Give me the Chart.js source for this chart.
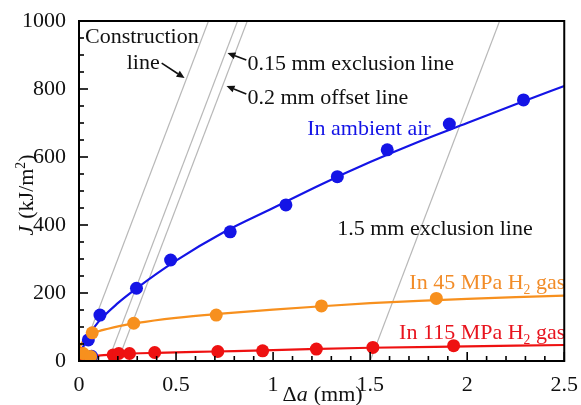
<!DOCTYPE html>
<html><head><meta charset="utf-8">
<script src="https://cdn.jsdelivr.net/npm/chart.js@4.4.1/dist/chart.umd.min.js"></script>
<style>html,body{margin:0;padding:0;background:#fff}</style>
</head><body>
<canvas id="c" width="581" height="405"></canvas>
<script>
// ---- data ----
const airX = [0.048, 0.065, 0.108, 0.296, 0.472, 0.779, 1.066, 1.331, 1.588, 1.908, 2.29];
const airJ = [62, 14, 135, 214, 297, 380, 459, 542, 621, 697, 768];
const h45X = [0.022, 0.060, 0.068, 0.282, 0.707, 1.249, 1.841];
const h45J = [22, 13, 83, 111, 135, 162, 184];
const h115X = [0.014, 0.176, 0.205, 0.26, 0.39, 0.715, 0.946, 1.223, 1.514, 1.93];
const h115J = [21, 18, 22, 22, 25, 28, 30, 35, 40, 45];

// fitted curves
const airCurveX = [0, 0.02, 0.05, 0.1, 0.2, 0.3, 0.5, 0.75, 1.0, 1.25, 1.5, 1.75, 2.0, 2.25, 2.5];
const airCurveJ = [0, 40, 75, 115, 170, 215, 295, 380, 450, 520, 585, 645, 700, 755, 809];
const h45CurveX = [0, 0.01, 0.03, 0.07, 0.15, 0.3, 0.5, 0.75, 1.0, 1.25, 1.5, 1.75, 2.0, 2.25, 2.5];
const h45CurveJ = [28, 48, 63, 80, 95, 112, 127, 140, 151, 161, 170, 177, 183, 188, 192];
const h115CurveX = [0, 0.03, 0.1, 0.2, 0.4, 0.7, 1.0, 1.5, 2.0, 2.5];
const h115CurveJ = [2, 12, 16, 20, 24, 28, 32, 39, 43, 47];

// construction / exclusion / offset lines (start and end points)
const guideNames = ['Construction line', '0.15 mm exclusion line', '0.2 mm offset line', '1.5 mm exclusion line'];
const guideStartX = [0, 0.15, 0.2, 1.5];
const guideEndX = [0.667, 0.817, 0.867, 2.167];
const guideStartJ = [0, 0, 0, 0];
const guideEndJ = [1000, 1000, 1000, 1000];

// tick labels and tick marks
const xTicks = [0, 0.5, 1, 1.5, 2, 2.5];
const xTickLabels = ['0', '0.5', '1', '1.5', '2', '2.5'];
const yTicks = [0, 200, 400, 600, 800, 1000];
const yTickLabels = ['0', '200', '400', '600', '800', '1000'];
const xMinorStep = 0.1;
const yMinorStep = 50;

// annotations (anchored in data units)
const noteText = ['Construction', 'line', '0.15 mm exclusion line', '0.2 mm offset line', 'In ambient air', '1.5 mm exclusion line', 'In 45 MPa H\u2082 gas', 'In 115 MPa H\u2082 gas'];
const noteX = [0.031, 0.246, 0.868, 0.868, 1.176, 1.330, 2.505, 2.505];
const noteJ = [956, 879, 876, 776, 685, 391, 232, 85];
const noteAlign = ['left', 'left', 'left', 'left', 'left', 'left', 'right', 'right'];
const noteColor = ['#111', '#111', '#111', '#111', '#1414e6', '#111', '#f28c28', '#e8141e'];

const arrowTailX = [0.426, 0.862, 0.862];
const arrowTailJ = [876, 885, 785];
const arrowHeadX = [0.544, 0.765, 0.760];
const arrowHeadJ = [832, 906, 809];

const BLUE = '#1414e6', ORANGE = '#f7901e', RED = '#ee1111', GRAY = '#b8b8b8';
const FONT = 'Liberation Serif';

const pts = (xs, ys) => xs.map((x, i) => ({x, y: ys[i]}));

const datasets = [];
guideNames.forEach((n, i) => {
  datasets.push({label: n, data: [{x: guideStartX[i], y: guideStartJ[i]}, {x: guideEndX[i], y: guideEndJ[i]}],
    showLine: true, borderColor: GRAY, borderWidth: 1.2, pointRadius: 0, order: 10});
});
datasets.push({label: 'air fit', data: pts(airCurveX, airCurveJ), showLine: true, borderColor: BLUE, borderWidth: 2.2, pointRadius: 0, cubicInterpolationMode: 'monotone', order: 6});
datasets.push({label: '45 fit', data: pts(h45CurveX, h45CurveJ), showLine: true, borderColor: ORANGE, borderWidth: 2.2, pointRadius: 0, cubicInterpolationMode: 'monotone', order: 5});
datasets.push({label: '115 fit', data: pts(h115CurveX, h115CurveJ), showLine: true, borderColor: RED, borderWidth: 2.2, pointRadius: 0, cubicInterpolationMode: 'monotone', order: 7});
datasets.push({label: 'In 115 MPa H2 gas', data: pts(h115X, h115J), showLine: false, backgroundColor: RED, borderColor: RED, pointRadius: 6.5, borderWidth: 0, order: 4});
datasets.push({label: 'In ambient air', data: pts(airX, airJ), showLine: false, backgroundColor: BLUE, borderColor: BLUE, pointRadius: 6.5, borderWidth: 0, order: 3});
datasets.push({label: 'In 45 MPa H2 gas', data: pts(h45X, h45J), showLine: false, backgroundColor: ORANGE, borderColor: ORANGE, pointRadius: 6.5, borderWidth: 0, order: 2});

function font(size, italic) { return (italic ? 'italic ' : '') + size + 'px "' + FONT + '"'; }

// draw segments [{t, italic, sup, sub, gap}] with given alignment; gap = explicit space in px
function drawRich(ctx, segs, x, y, align, color, size) {
  const widths = segs.map(s => {
    if (s.gap) return s.gap;
    ctx.font = font((s.sup || s.sub) ? size * 0.62 : size, s.italic);
    return ctx.measureText(s.t).width;
  });
  const total = widths.reduce((a, b) => a + b, 0);
  let cx = align === 'left' ? x : align === 'right' ? x - total : x - total / 2;
  ctx.fillStyle = color;
  ctx.textBaseline = 'alphabetic';
  ctx.textAlign = 'left';
  segs.forEach((s, i) => {
    if (!s.gap) {
      ctx.font = font((s.sup || s.sub) ? size * 0.62 : size, s.italic);
      let dy = 0;
      if (s.sup) dy = -size * 0.38;
      if (s.sub) dy = size * 0.2;
      ctx.fillText(s.t, cx, y + dy);
    }
    cx += widths[i];
  });
}
function parseSegs(text) {
  const segs = [];
  let buf = '';
  for (const ch of text) {
    if (ch === '\u2082') { if (buf) segs.push({t: buf}); buf = ''; segs.push({t: '2', sub: true}); }
    else buf += ch;
  }
  if (buf) segs.push({t: buf});
  return segs;
}

const decor = {
  id: 'decor',
  afterDatasetsDraw(chart) {
    const {ctx, chartArea: a, scales: {x, y}} = chart;
    ctx.save();
    const size = 22;
    noteText.forEach((t, i) => {
      const px = x.getPixelForValue(noteX[i]);
      const py = y.getPixelForValue(noteJ[i]) + size * 0.33;
      drawRich(ctx, parseSegs(t), px, py, noteAlign[i], noteColor[i], size);
    });
    ctx.strokeStyle = '#111'; ctx.fillStyle = '#111'; ctx.lineWidth = 1.6;
    arrowTailX.forEach((tx, i) => {
      const x0 = x.getPixelForValue(tx), y0 = y.getPixelForValue(arrowTailJ[i]);
      const x1 = x.getPixelForValue(arrowHeadX[i]), y1 = y.getPixelForValue(arrowHeadJ[i]);
      const ang = Math.atan2(y1 - y0, x1 - x0);
      const hl = 8, hw = 3.5;
      const bx = x1 - hl * Math.cos(ang), by = y1 - hl * Math.sin(ang);
      ctx.beginPath(); ctx.moveTo(x0, y0); ctx.lineTo(bx, by); ctx.stroke();
      ctx.beginPath();
      ctx.moveTo(x1, y1);
      ctx.lineTo(bx + hw * Math.sin(ang), by - hw * Math.cos(ang));
      ctx.lineTo(bx - hw * Math.sin(ang), by + hw * Math.cos(ang));
      ctx.closePath(); ctx.fill();
    });
    ctx.restore();
  },
  afterDraw(chart) {
    const {ctx, chartArea: a, scales: {x, y}} = chart;
    ctx.save();
    ctx.strokeStyle = '#000';
    ctx.lineWidth = 2;
    ctx.strokeRect(a.left, a.top, a.right - a.left, a.bottom - a.top);
    ctx.fillStyle = '#000';
    const nY = Math.round((y.max - y.min) / yMinorStep);
    for (let k = 0; k <= nY; k++) {
      const v = y.min + k * yMinorStep;
      const py = y.getPixelForValue(v);
      const len = yTicks.includes(v) ? 9 : 5;
      ctx.fillRect(a.left, py - 0.8, len, 1.6);
    }
    const nX = Math.round((x.max - x.min) / xMinorStep);
    for (let k = 0; k <= nX; k++) {
      const v = Math.round((x.min + k * xMinorStep) * 10) / 10;
      const px = x.getPixelForValue(v);
      const len = xTicks.includes(v) ? 9 : 5;
      ctx.fillRect(px - 0.8, a.bottom - len, 1.6, len);
    }
    // axis titles with explicit word gaps
    const size = 22;
    drawRich(ctx, [{t: '\u0394'}, {t: 'a', italic: true}, {gap: 6}, {t: '(mm)'}], (a.left + a.right) / 2 + 1, 401, 'center', '#111', size);
    ctx.translate(33, (a.top + a.bottom) / 2 + 4);
    ctx.rotate(-Math.PI / 2);
    drawRich(ctx, [{t: 'J', italic: true}, {gap: 7}, {t: '(kJ/m'}, {t: '2', sup: true}, {t: ')'}], 0, 0, 'center', '#111', size);
    ctx.restore();
  }
};

new Chart(document.getElementById('c'), {
  type: 'scatter',
  data: {datasets},
  options: {
    responsive: false,
    animation: false,
    layout: {padding: {left: 0, top: 21, right: 15, bottom: 0}},
    plugins: {legend: {display: false}, tooltip: {enabled: false}},
    scales: {
      x: {
        type: 'linear', min: 0, max: 2.5,
        afterBuildTicks: s => { s.ticks = xTicks.map(v => ({value: v})); },
        afterFit: s => { s.height = 44; },
        grid: {display: false},
        border: {display: false},
        ticks: {padding: 3, color: '#111', font: {family: FONT, size: 22}, maxRotation: 0, autoSkip: false,
          callback: (v) => { const i = xTicks.indexOf(v); return i >= 0 ? xTickLabels[i] : ''; }}
      },
      y: {
        type: 'linear', min: 0, max: 1000,
        afterBuildTicks: s => { s.ticks = yTicks.map(v => ({value: v})); },
        afterFit: s => { s.width = 79; },
        grid: {display: false},
        border: {display: false},
        ticks: {padding: 5, color: '#111', font: {family: FONT, size: 22}, autoSkip: false,
          callback: (v) => { const i = yTicks.indexOf(v); return i >= 0 ? yTickLabels[i] : ''; }}
      }
    }
  },
  plugins: [decor]
});
</script>
</body></html>
